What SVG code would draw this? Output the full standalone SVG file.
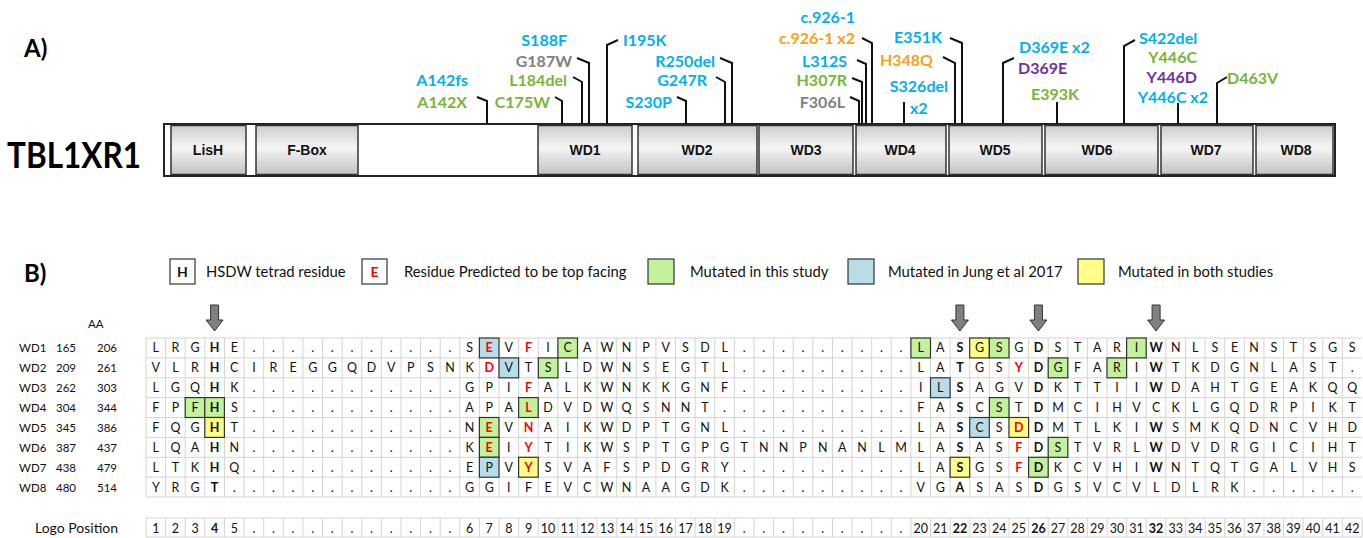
<svg xmlns="http://www.w3.org/2000/svg" width="1363" height="538" viewBox="0 0 1363 538">
<style>
.lbl{font-family:Lato,"Liberation Sans",sans-serif;font-weight:700;font-size:16px}
.mb{fill:#00B0F0}.mg{fill:#78B536}.mgr{fill:#808080}.mo{fill:#F7A11A}.mp{fill:#7030A0}
.lead{fill:none;stroke:#111;stroke-width:2}
.dom{fill:url(#dg);stroke:#333;stroke-width:1.5}
.dt{font-family:"Liberation Sans",Arial,sans-serif;font-weight:700;font-size:14px;fill:#111;text-anchor:middle}
.g{font-family:Lato,"Liberation Sans",sans-serif;font-size:12.5px;fill:#111;text-anchor:middle}
.t{font-family:Lato,"Liberation Sans",sans-serif;font-size:11.5px;fill:#111}
.lg{font-family:Lato,"Liberation Sans",sans-serif;font-size:14.8px;fill:#111}
.b{font-weight:700}.r{font-weight:700;fill:#FF0000}
.gl{fill:none;stroke:#D4D4D4;stroke-width:1}
.bx{stroke:#333;stroke-width:1.2}
.gr{fill:#C4F29C}.bl{fill:#B7DEE8}.ye{fill:#FFFF88}
.arr{fill:#808080;stroke:#333;stroke-width:1}
.hd{font-family:Lato,"Liberation Sans",sans-serif;font-weight:700;font-size:24px;fill:#000}
</style>
<defs>
<linearGradient id="dg" x1="0" y1="0" x2="0" y2="1">
<stop offset="0" stop-color="#cdcdcd"/><stop offset="0.45" stop-color="#f5f5f5"/><stop offset="1" stop-color="#c2c2c2"/>
</linearGradient>
<path id="darr" class="arr" d="M-4 0H4V15H8.5L0 26L-8.5 15H-4Z"/>
</defs>

<text class="hd" x="24" y="57">A)</text>
<text class="hd" x="24" y="282">B)</text>

<g id="protein">
<text x="7" y="168" font-family="Lato,'Liberation Sans',sans-serif" font-weight="700" font-size="36" textLength="134" lengthAdjust="spacingAndGlyphs">TBL1XR1</text>
<rect x="164" y="124" width="1171" height="52" fill="#fff" stroke="#222" stroke-width="2"/>
<rect class="dom" x="171" y="125.5" width="75" height="49"/><text class="dt" x="208" y="155">LisH</text>
<rect class="dom" x="256" y="125.5" width="102" height="49"/><text class="dt" x="307" y="155">F-Box</text>
<rect class="dom" x="538" y="125.5" width="94" height="49"/><text class="dt" x="585" y="155">WD1</text>
<rect class="dom" x="638" y="125.5" width="119" height="49"/><text class="dt" x="697" y="155">WD2</text>
<rect class="dom" x="759" y="125.5" width="94" height="49"/><text class="dt" x="806" y="155">WD3</text>
<rect class="dom" x="856" y="125.5" width="90" height="49"/><text class="dt" x="900" y="155">WD4</text>
<rect class="dom" x="949" y="125.5" width="93" height="49"/><text class="dt" x="995" y="155">WD5</text>
<rect class="dom" x="1045" y="125.5" width="113" height="49"/><text class="dt" x="1097" y="155">WD6</text>
<rect class="dom" x="1161" y="125.5" width="92" height="49"/><text class="dt" x="1206" y="155">WD7</text>
<rect class="dom" x="1256" y="125.5" width="77" height="49"/><text class="dt" x="1296" y="155">WD8</text>
</g>

<g id="connectors">
<polyline class="lead" points="477,97 487,101 487,124"/>
<polyline class="lead" points="555,97 562,101 562,124"/>
<polyline class="lead" points="573,77 582,82 582,124"/>
<polyline class="lead" points="577,58 589,63 589,124"/>
<polyline class="lead" points="618,40 607,45 607,124"/>
<polyline class="lead" points="677,97 686,101 686,124"/>
<polyline class="lead" points="716,77 725,82 725,124"/>
<polyline class="lead" points="720,58 732,63 732,124"/>
<polyline class="lead" points="850,97 859,101 859,124"/>
<polyline class="lead" points="852,78 862,82 862,124"/>
<polyline class="lead" points="857,60 866,64 866,124"/>
<polyline class="lead" points="862,38 872,43 872,124"/>
<polyline class="lead" points="904,102 904,124"/>
<polyline class="lead" points="943,57 955,63 955,124"/>
<polyline class="lead" points="950,38 962,43 962,124"/>
<polyline class="lead" points="1014,58 1003,63 1003,124"/>
<polyline class="lead" points="1057,102 1057,124"/>
<polyline class="lead" points="1135,40 1124,46 1124,124"/>
<polyline class="lead" points="1178,103 1178,124"/>
<polyline class="lead" points="1227,77 1217,83 1217,124"/>
</g>

<g id="mutations">
<text class="lbl mb" x="468" y="86" text-anchor="end">A142fs</text>
<text class="lbl mg" x="467" y="108" text-anchor="end">A142X</text>
<text class="lbl mg" x="550" y="108" text-anchor="end">C175W</text>
<text class="lbl mg" x="567" y="86" text-anchor="end">L184del</text>
<text class="lbl mgr" x="572" y="67" text-anchor="end">G187W</text>
<text class="lbl mb" x="567" y="46" text-anchor="end">S188F</text>
<text class="lbl mb" x="623" y="46">I195K</text>
<text class="lbl mb" x="715" y="67" text-anchor="end">R250del</text>
<text class="lbl mb" x="707" y="86" text-anchor="end">G247R</text>
<text class="lbl mb" x="672" y="108" text-anchor="end">S230P</text>
<text class="lbl mb" x="855" y="23" text-anchor="end">c.926-1</text>
<text class="lbl mo" x="855" y="44" text-anchor="end">c.926-1 x2</text>
<text class="lbl mb" x="847" y="67" text-anchor="end">L312S</text>
<text class="lbl mg" x="847" y="86" text-anchor="end">H307R</text>
<text class="lbl mgr" x="845" y="108" text-anchor="end">F306L</text>
<text class="lbl mb" x="942" y="43" text-anchor="end">E351K</text>
<text class="lbl mo" x="933" y="66" text-anchor="end">H348Q</text>
<text class="lbl mb" x="948" y="92" text-anchor="end">S326del</text>
<text class="lbl mb" x="910" y="114">x2</text>
<text class="lbl mb" x="1019" y="53">D369E x2</text>
<text class="lbl mp" x="1018" y="74">D369E</text>
<text class="lbl mg" x="1055" y="100" text-anchor="middle">E393K</text>
<text class="lbl mb" x="1139" y="44">S422del</text>
<text class="lbl mg" x="1197" y="63" text-anchor="end">Y446C</text>
<text class="lbl mp" x="1197" y="83" text-anchor="end">Y446D</text>
<text class="lbl mb" x="1208" y="103" text-anchor="end">Y446C x2</text>
<text class="lbl mg" x="1227" y="84">D463V</text>
</g>

<g id="legend">
<rect x="170" y="259" width="25" height="25" fill="#fff" stroke="#333" stroke-width="1.2"/>
<text class="g b" x="182.5" y="276.5" style="font-size:14px">H</text>
<text class="lg" x="206" y="277">HSDW tetrad residue</text>
<rect x="362" y="259" width="25" height="25" fill="#fff" stroke="#333" stroke-width="1.2"/>
<text class="g r" x="374.5" y="276.5" style="font-size:14px">E</text>
<text class="lg" x="404" y="277">Residue Predicted to be top facing</text>
<rect class="bx gr" x="648" y="259" width="26" height="25"/>
<text class="lg" x="690" y="277">Mutated in this study</text>
<rect class="bx bl" x="848" y="259" width="26" height="25"/>
<text class="lg" x="888" y="277">Mutated in Jung et al 2017</text>
<rect class="bx ye" x="1078" y="259" width="26" height="25"/>
<text class="lg" x="1118" y="277">Mutated in both studies</text>
</g>

<g id="arrows">
<use href="#darr" x="214.6" y="305"/>
<use href="#darr" x="959.9" y="305"/>
<use href="#darr" x="1038.4" y="305"/>
<use href="#darr" x="1156.1" y="305"/>
</g>

<g id="alignment">
<text class="t" x="88" y="328">AA</text>
<path class="gl" d="M146 338v159m19.613-159v159m19.613-159v159m19.613-159v159m19.613-159v159m19.613-159v159m19.613-159v159m19.613-159v159m19.613-159v159m19.613-159v159m19.613-159v159m19.613-159v159m19.613-159v159m19.613-159v159m19.613-159v159m19.613-159v159m19.613-159v159m19.613-159v159m19.613-159v159m19.613-159v159m19.613-159v159m19.613-159v159m19.613-159v159m19.613-159v159m19.613-159v159m19.613-159v159m19.613-159v159m19.613-159v159m19.613-159v159m19.613-159v159m19.613-159v159m19.613-159v159m19.613-159v159m19.613-159v159m19.613-159v159m19.613-159v159m19.613-159v159m19.613-159v159m19.613-159v159m19.613-159v159m19.613-159v159m19.613-159v159m19.613-159v159m19.613-159v159m19.613-159v159m19.613-159v159m19.613-159v159m19.613-159v159m19.613-159v159m19.613-159v159m19.613-159v159m19.613-159v159m19.613-159v159m19.613-159v159m19.613-159v159m19.613-159v159m19.613-159v159m19.613-159v159m19.613-159v159m19.613-159v159m19.613-159v159m19.613-159v159M146 338H1362M146 357.9H1362M146 377.8H1362M146 397.6H1362M146 417.5H1362M146 437.4H1362M146 457.3H1362M146 477.1H1362M146 497H1362"/>

<rect class="bx bl" x="479.4" y="338" width="19.6" height="19.9"/>
<rect class="bx gr" x="557.9" y="338" width="19.6" height="19.9"/>
<rect class="bx gr" x="910.9" y="338" width="19.6" height="19.9"/>
<rect class="bx ye" x="969.7" y="338" width="19.6" height="19.9"/>
<rect class="bx gr" x="989.4" y="338" width="19.6" height="19.9"/>
<rect class="bx gr" x="1126.6" y="338" width="19.6" height="19.9"/>
<rect class="bx bl" x="499" y="357.9" width="19.6" height="19.9"/>
<rect class="bx gr" x="538.3" y="357.9" width="19.6" height="19.9"/>
<rect class="bx gr" x="1048.2" y="357.9" width="19.6" height="19.9"/>
<rect class="bx gr" x="1107" y="357.9" width="19.6" height="19.9"/>
<rect class="bx bl" x="930.5" y="377.8" width="19.6" height="19.9"/>
<rect class="bx gr" x="185.2" y="397.6" width="19.6" height="19.9"/>
<rect class="bx gr" x="204.8" y="397.6" width="19.6" height="19.9"/>
<rect class="bx gr" x="518.6" y="397.6" width="19.6" height="19.9"/>
<rect class="bx gr" x="989.4" y="397.6" width="19.6" height="19.9"/>
<rect class="bx ye" x="204.8" y="417.5" width="19.6" height="19.9"/>
<rect class="bx gr" x="479.4" y="417.5" width="19.6" height="19.9"/>
<rect class="bx bl" x="969.7" y="417.5" width="19.6" height="19.9"/>
<rect class="bx ye" x="1009" y="417.5" width="19.6" height="19.9"/>
<rect class="bx gr" x="479.4" y="437.4" width="19.6" height="19.9"/>
<rect class="bx gr" x="1048.2" y="437.4" width="19.6" height="19.9"/>
<rect class="bx bl" x="479.4" y="457.3" width="19.6" height="19.9"/>
<rect class="bx ye" x="518.6" y="457.3" width="19.6" height="19.9"/>
<rect class="bx ye" x="950.1" y="457.3" width="19.6" height="19.9"/>
<rect class="bx gr" x="1028.6" y="457.3" width="19.6" height="19.9"/>

<text class="t" x="19" y="352.4">WD1</text><text class="t" x="56" y="352.4">165</text><text class="t" x="97" y="352.4">206</text>
<text class="t" x="19" y="372.3">WD2</text><text class="t" x="56" y="372.3">209</text><text class="t" x="97" y="372.3">261</text>
<text class="t" x="19" y="392.2">WD3</text><text class="t" x="56" y="392.2">262</text><text class="t" x="97" y="392.2">303</text>
<text class="t" x="19" y="412.1">WD4</text><text class="t" x="56" y="412.1">304</text><text class="t" x="97" y="412.1">344</text>
<text class="t" x="19" y="431.9">WD5</text><text class="t" x="56" y="431.9">345</text><text class="t" x="97" y="431.9">386</text>
<text class="t" x="19" y="451.8">WD6</text><text class="t" x="56" y="451.8">387</text><text class="t" x="97" y="451.8">437</text>
<text class="t" x="19" y="471.7">WD7</text><text class="t" x="56" y="471.7">438</text><text class="t" x="97" y="471.7">479</text>
<text class="t" x="19" y="491.6">WD8</text><text class="t" x="56" y="491.6">480</text><text class="t" x="97" y="491.6">514</text>

<text class="g" y="352.4" x="155.8 175.4 195 214.6 234.3 253.9 273.5 293.1 312.7 332.3 351.9 371.6 391.2 410.8 430.4 450 469.6 489.2 508.8 528.5 548.1 567.7 587.3 606.9 626.5 646.1 665.7 685.4 705 724.6 744.2 763.8 783.4 803 822.7 842.3 861.9 881.5 901.1 920.7 940.3 959.9 979.6 999.2 1018.8 1038.4 1058 1077.6 1097.2 1116.9 1136.5 1156.1 1175.7 1195.3 1214.9 1234.5 1254.1 1273.8 1293.4 1313 1332.6 1352.2">LRG<tspan class="b">H</tspan>E...........S<tspan class="r">E</tspan>V<tspan class="r">F</tspan>ICAWNPVSDL.........LA<tspan class="b">S</tspan>GSG<tspan class="b">D</tspan>STARI<tspan class="b">W</tspan>NLSENSTSGS</text>
<text class="g" y="372.3" x="155.8 175.4 195 214.6 234.3 253.9 273.5 293.1 312.7 332.3 351.9 371.6 391.2 410.8 430.4 450 469.6 489.2 508.8 528.5 548.1 567.7 587.3 606.9 626.5 646.1 665.7 685.4 705 724.6 744.2 763.8 783.4 803 822.7 842.3 861.9 881.5 901.1 920.7 940.3 959.9 979.6 999.2 1018.8 1038.4 1058 1077.6 1097.2 1116.9 1136.5 1156.1 1175.7 1195.3 1214.9 1234.5 1254.1 1273.8 1293.4 1313 1332.6 1352.2">VLR<tspan class="b">H</tspan>CIREGGQDVPSNK<tspan class="r">D</tspan>VTSLDWNSEGTL.........LA<tspan class="b">T</tspan>GS<tspan class="r">Y</tspan><tspan class="b">D</tspan>GFARI<tspan class="b">W</tspan>TKDGNLAST.</text>
<text class="g" y="392.2" x="155.8 175.4 195 214.6 234.3 253.9 273.5 293.1 312.7 332.3 351.9 371.6 391.2 410.8 430.4 450 469.6 489.2 508.8 528.5 548.1 567.7 587.3 606.9 626.5 646.1 665.7 685.4 705 724.6 744.2 763.8 783.4 803 822.7 842.3 861.9 881.5 901.1 920.7 940.3 959.9 979.6 999.2 1018.8 1038.4 1058 1077.6 1097.2 1116.9 1136.5 1156.1 1175.7 1195.3 1214.9 1234.5 1254.1 1273.8 1293.4 1313 1332.6 1352.2">LGQ<tspan class="b">H</tspan>K...........GPI<tspan class="r">F</tspan>ALKWNKKGNF.........IL<tspan class="b">S</tspan>AGV<tspan class="b">D</tspan>KTTII<tspan class="b">W</tspan>DAHTGEAKQQ</text>
<text class="g" y="412.1" x="155.8 175.4 195 214.6 234.3 253.9 273.5 293.1 312.7 332.3 351.9 371.6 391.2 410.8 430.4 450 469.6 489.2 508.8 528.5 548.1 567.7 587.3 606.9 626.5 646.1 665.7 685.4 705 724.6 744.2 763.8 783.4 803 822.7 842.3 861.9 881.5 901.1 920.7 940.3 959.9 979.6 999.2 1018.8 1038.4 1058 1077.6 1097.2 1116.9 1136.5 1156.1 1175.7 1195.3 1214.9 1234.5 1254.1 1273.8 1293.4 1313 1332.6 1352.2">FPF<tspan class="b">H</tspan>S...........APA<tspan class="r">L</tspan>DVDWQSNNT..........FA<tspan class="b">S</tspan>CST<tspan class="b">D</tspan>MCIHVCKLGQDRPIKT</text>
<text class="g" y="431.9" x="155.8 175.4 195 214.6 234.3 253.9 273.5 293.1 312.7 332.3 351.9 371.6 391.2 410.8 430.4 450 469.6 489.2 508.8 528.5 548.1 567.7 587.3 606.9 626.5 646.1 665.7 685.4 705 724.6 744.2 763.8 783.4 803 822.7 842.3 861.9 881.5 901.1 920.7 940.3 959.9 979.6 999.2 1018.8 1038.4 1058 1077.6 1097.2 1116.9 1136.5 1156.1 1175.7 1195.3 1214.9 1234.5 1254.1 1273.8 1293.4 1313 1332.6 1352.2">FQG<tspan class="b">H</tspan>T...........N<tspan class="r">E</tspan>V<tspan class="r">N</tspan>AIKWDPTGNL.........LA<tspan class="b">S</tspan>CS<tspan class="r">D</tspan><tspan class="b">D</tspan>MTLKI<tspan class="b">W</tspan>SMKQDNCVHD</text>
<text class="g" y="451.8" x="155.8 175.4 195 214.6 234.3 253.9 273.5 293.1 312.7 332.3 351.9 371.6 391.2 410.8 430.4 450 469.6 489.2 508.8 528.5 548.1 567.7 587.3 606.9 626.5 646.1 665.7 685.4 705 724.6 744.2 763.8 783.4 803 822.7 842.3 861.9 881.5 901.1 920.7 940.3 959.9 979.6 999.2 1018.8 1038.4 1058 1077.6 1097.2 1116.9 1136.5 1156.1 1175.7 1195.3 1214.9 1234.5 1254.1 1273.8 1293.4 1313 1332.6 1352.2">LQA<tspan class="b">H</tspan>N...........K<tspan class="r">E</tspan>I<tspan class="r">Y</tspan>TIKWSPTGPGTNNPNANLMLA<tspan class="b">S</tspan>AS<tspan class="r">F</tspan><tspan class="b">D</tspan>STVRL<tspan class="b">W</tspan>DVDRGICIHT</text>
<text class="g" y="471.7" x="155.8 175.4 195 214.6 234.3 253.9 273.5 293.1 312.7 332.3 351.9 371.6 391.2 410.8 430.4 450 469.6 489.2 508.8 528.5 548.1 567.7 587.3 606.9 626.5 646.1 665.7 685.4 705 724.6 744.2 763.8 783.4 803 822.7 842.3 861.9 881.5 901.1 920.7 940.3 959.9 979.6 999.2 1018.8 1038.4 1058 1077.6 1097.2 1116.9 1136.5 1156.1 1175.7 1195.3 1214.9 1234.5 1254.1 1273.8 1293.4 1313 1332.6 1352.2">LTK<tspan class="b">H</tspan>Q...........EPV<tspan class="r">Y</tspan>SVAFSPDGRY.........LA<tspan class="b">S</tspan>GS<tspan class="r">F</tspan><tspan class="b">D</tspan>KCVHI<tspan class="b">W</tspan>NTQTGALVHS</text>
<text class="g" y="491.6" x="155.8 175.4 195 214.6 234.3 253.9 273.5 293.1 312.7 332.3 351.9 371.6 391.2 410.8 430.4 450 469.6 489.2 508.8 528.5 548.1 567.7 587.3 606.9 626.5 646.1 665.7 685.4 705 724.6 744.2 763.8 783.4 803 822.7 842.3 861.9 881.5 901.1 920.7 940.3 959.9 979.6 999.2 1018.8 1038.4 1058 1077.6 1097.2 1116.9 1136.5 1156.1 1175.7 1195.3 1214.9 1234.5 1254.1 1273.8 1293.4 1313 1332.6 1352.2">YRG<tspan class="b">T</tspan>............GGIFEVCWNAAGDK.........VG<tspan class="b">A</tspan>SAS<tspan class="b">D</tspan>GSVCVLDLRK......</text>
</g>

<g id="logo">
<text class="t" x="35" y="532.5" style="font-size:14px">Logo Position</text>
<path class="gl" d="M146 518v19m19.613-19v19m19.613-19v19m19.613-19v19m19.613-19v19m19.613-19v19m19.613-19v19m19.613-19v19m19.613-19v19m19.613-19v19m19.613-19v19m19.613-19v19m19.613-19v19m19.613-19v19m19.613-19v19m19.613-19v19m19.613-19v19m19.613-19v19m19.613-19v19m19.613-19v19m19.613-19v19m19.613-19v19m19.613-19v19m19.613-19v19m19.613-19v19m19.613-19v19m19.613-19v19m19.613-19v19m19.613-19v19m19.613-19v19m19.613-19v19m19.613-19v19m19.613-19v19m19.613-19v19m19.613-19v19m19.613-19v19m19.613-19v19m19.613-19v19m19.613-19v19m19.613-19v19m19.613-19v19m19.613-19v19m19.613-19v19m19.613-19v19m19.613-19v19m19.613-19v19m19.613-19v19m19.613-19v19m19.613-19v19m19.613-19v19m19.613-19v19m19.613-19v19m19.613-19v19m19.613-19v19m19.613-19v19m19.613-19v19m19.613-19v19m19.613-19v19m19.613-19v19m19.613-19v19m19.613-19v19m19.613-19v19m19.613-19v19M146 518H1362M146 537H1362"/>
<text class="g" y="532.5"><tspan x="155.8">1</tspan><tspan x="175.4">2</tspan><tspan x="195">3</tspan><tspan x="214.6" class="b">4</tspan><tspan x="234.3">5</tspan><tspan x="253.9">.</tspan><tspan x="273.5">.</tspan><tspan x="293.1">.</tspan><tspan x="312.7">.</tspan><tspan x="332.3">.</tspan><tspan x="351.9">.</tspan><tspan x="371.6">.</tspan><tspan x="391.2">.</tspan><tspan x="410.8">.</tspan><tspan x="430.4">.</tspan><tspan x="450">.</tspan><tspan x="469.6">6</tspan><tspan x="489.2">7</tspan><tspan x="508.8">8</tspan><tspan x="528.5">9</tspan><tspan x="548.1">10</tspan><tspan x="567.7">11</tspan><tspan x="587.3">12</tspan><tspan x="606.9">13</tspan><tspan x="626.5">14</tspan><tspan x="646.1">15</tspan><tspan x="665.7">16</tspan><tspan x="685.4">17</tspan><tspan x="705">18</tspan><tspan x="724.6">19</tspan><tspan x="744.2">.</tspan><tspan x="763.8">.</tspan><tspan x="783.4">.</tspan><tspan x="803">.</tspan><tspan x="822.7">.</tspan><tspan x="842.3">.</tspan><tspan x="861.9">.</tspan><tspan x="881.5">.</tspan><tspan x="901.1">.</tspan><tspan x="920.7">20</tspan><tspan x="940.3">21</tspan><tspan x="959.9" class="b">22</tspan><tspan x="979.6">23</tspan><tspan x="999.2">24</tspan><tspan x="1018.8">25</tspan><tspan x="1038.4" class="b">26</tspan><tspan x="1058">27</tspan><tspan x="1077.6">28</tspan><tspan x="1097.2">29</tspan><tspan x="1116.9">30</tspan><tspan x="1136.5">31</tspan><tspan x="1156.1" class="b">32</tspan><tspan x="1175.7">33</tspan><tspan x="1195.3">34</tspan><tspan x="1214.9">35</tspan><tspan x="1234.5">36</tspan><tspan x="1254.1">37</tspan><tspan x="1273.8">38</tspan><tspan x="1293.4">39</tspan><tspan x="1313">40</tspan><tspan x="1332.6">41</tspan><tspan x="1352.2">42</tspan></text>
</g>
</svg>
